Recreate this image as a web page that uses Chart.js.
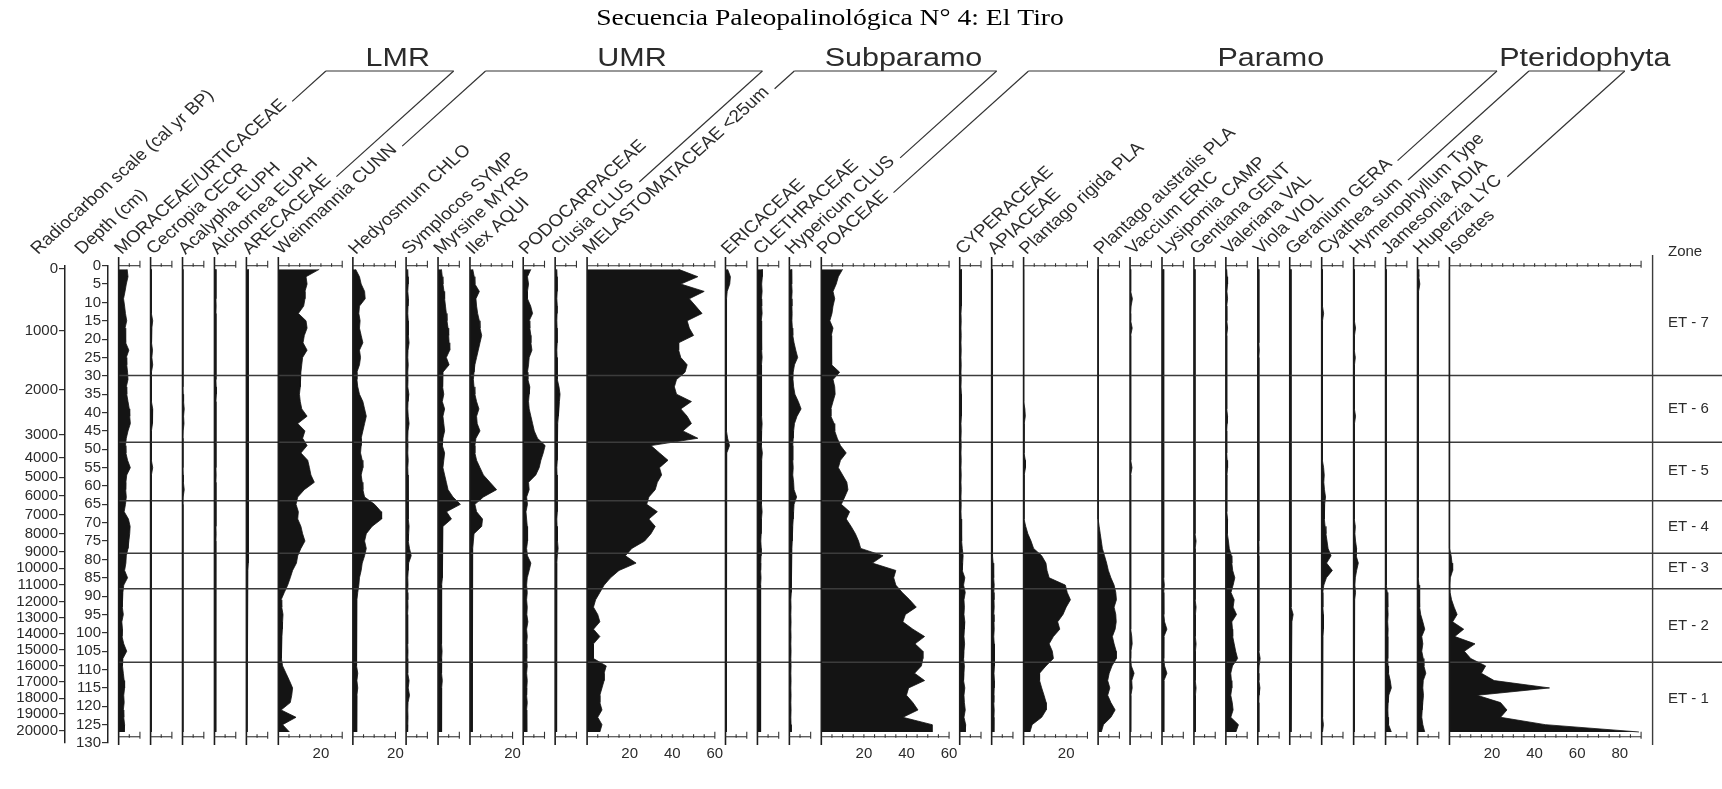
<!DOCTYPE html>
<html>
<head>
<meta charset="utf-8">
<title>Secuencia Paleopalinológica N° 4: El Tiro</title>
<script src="https://cdn.jsdelivr.net/npm/chart.js@4.4.0/dist/chart.umd.min.js"></script>
<style>
  html, body { margin: 0; padding: 0; background: #fff; }
  #contenedor { position: relative; width: 1722px; height: 789px; }
</style>
</head>
<body>
<div id="contenedor"><canvas id="diagramaPolen" width="1722" height="789"></canvas></div>
<script>

// Profundidad de cada muestra (cm)
const profundidades = [1,3,5,7,9,11,13,15,17,19,21,23,25,27,29,31,33,35,37,39,41,43,45,47,49,51,53,55,57,59,61,63,65,67,69,71,73,75,77,79,81,83,85,87,89,91,93,95,97,99,101,103,105,107,109,111,113,115,117,119,121,123,125,127];

// Escala de radiocarbono (cal yr BP) y la profundidad donde cae cada marca
const edadEtiquetas = ['0','1000','2000','3000','4000','5000','6000','7000','8000','9000','10000','11000','12000','13000','14000','15000','16000','17000','18000','19000','20000'];
const edadProfundidad = [0.9,17.8,33.8,46.1,52.4,57.6,62.7,67.9,73.0,78.0,82.4,86.9,91.5,95.8,100.3,104.6,109.0,113.3,117.8,122.0,126.6];
const profTicks = [0,5,10,15,20,25,30,35,40,45,50,55,60,65,70,75,80,85,90,95,100,105,110,115,120,125,130];

// Zonas
const limitesZona = [29.9, 48.1, 64.0, 78.3, 88.0, 108.0];
const zonas = ['ET - 7','ET - 6','ET - 5','ET - 4','ET - 3','ET - 2','ET - 1'];
const zonaCentro = [15.6, 39.0, 56.0, 71.0, 82.4, 98.0, 118.0];

// Taxones y escala maxima (%) de cada columna
const taxones = ['MORACEAE/URTICACEAE','Cecropia CECR','Acalypha EUPH','Alchornea EUPH','ARECACEAE','Weinmannia CUNN','Hedyosmum CHLO','Symplocos SYMP','Myrsine MYRS','Ilex AQUI','PODOCARPACEAE','Clusia CLUS','MELASTOMATACEAE <25um','ERICACEAE','CLETHRACEAE','Hypericum CLUS','POACEAE','CYPERACEAE','APIACEAE','Plantago rigida PLA','Plantago australis PLA','Vaccium ERIC','Lysipomia CAMP','Gentiana GENT','Valeriana VAL','Viola VIOL','Geranium GERA','Cyathea sum','Hymenophyllum Type','Jamesonia ADIA','Huperzia LYC','Isoetes'];
const escalaMax = [10,10,10,10,10,30,20,10,10,20,10,10,60,10,10,10,60,10,10,30,10,10,10,10,10,10,10,10,10,10,10,90];

// Etiquetas numericas bajo algunas columnas
const columnasConEtiqueta = [5, 6, 9, 12, 16, 19, 31];
const etiquetasColumna = [[20],[20],[20],[20,40,60],[20,40,60],[20],[20,40,60,80]];

// Grupos ecologicos (primera y ultima columna unidas por la llave)
const grupos = ['LMR','UMR','Subparamo','Paramo','Pteridophyta'];
const grupoDesde = [0, 5, 12, 16, 27];
const grupoHasta = [4, 11, 15, 26, 30];

// Porcentajes por taxon (una cifra por profundidad)
const moraceae = [4.0,4.4,3.6,3.0,2.3,2.8,3.2,3.8,3.0,3.4, 3.2,4.8,3.6,3.8,4.2,4.4,3.6,3.8,4.4,5.0, 5.2,5.5,4.4,3.6,3.2,3.4,4.2,5.5,3.8,3.4, 3.3,3.6,3.2,2.6,4.6,5.4,5.2,4.8,4.4,3.6, 3.4,2.8,4.2,2.4,2.0,1.8,1.6,2.2,1.5,1.8, 1.6,2.4,3.8,2.0,1.8,2.2,2.6,2.8,2.4,2.6, 2.2,2.4,2.8,2.6];
const cecropia = [0.3,0.3,0.3,0.4,0.3,0.4,0.5,1.0,0.6,0.4, 0.5,0.9,0.6,1.0,0.4,0.3,0.3,0.4,0.6,1.0, 1.1,0.7,0.4,0.3,0.3,0.4,0.5,1.0,0.4,0.3, 0.3,0.3,0.4,0.3,0.3,0.4,0.3,0.3,0.3,0.3, 0.3,0.3,0.3,0.3,0.3,0.3,0.3,0.3,0.3,0.3, 0.3,0.3,0.3,0.3,0.3,0.3,0.3,0.3,0.3,0.3, 0.3,0.3,0.3,0.3];
const acalypha = [0.2,0.2,0.2,0.2,0.2,0.2,0.2,0.2,0.2,0.2, 0.2,0.2,0.2,0.2,0.2,0.2,0.2,0.3,0.5,0.8, 0.5,0.7,0.3,0.2,0.2,0.2,0.2,0.2,0.3,0.4, 0.8,0.3,0.2,0.2,0.2,0.2,0.2,0.2,0.2,0.2, 0.2,0.2,0.2,0.2,0.2,0.2,0.2,0.2,0.2,0.2, 0.2,0.2,0.2,0.2,0.2,0.2,0.2,0.2,0.2,0.2, 0.2,0.2,0.2,0.2];
const alchornea = [0.7,0.7,0.7,0.7,0.7,0.8,0.7,0.7,0.7,0.7, 0.7,0.7,0.7,0.7,0.7,0.7,0.8,0.9,0.7,0.7, 0.7,0.7,0.7,0.7,0.7,0.7,0.7,0.7,0.8,0.7, 0.7,0.7,0.7,0.7,0.7,0.7,0.8,0.7,0.7,0.7, 0.7,0.7,0.7,0.7,0.6,0.6,0.6,0.6,0.6,0.6, 0.6,0.6,0.6,0.6,0.6,0.6,0.6,0.6,0.6,0.6, 0.6,0.6,0.6,0.6];
const arecaceae = [0.8,0.9,1.0,0.8,0.9,1.1,0.8,0.9,1.2,0.8, 0.9,1.1,0.8,1.0,0.9,0.8,0.9,1.1,0.8,0.9, 1.0,0.8,0.9,0.8,0.9,1.1,0.8,0.9,0.8,1.0, 0.8,0.9,1.0,0.8,0.9,0.8,1.1,0.9,0.8,0.9, 0.8,0.7,0.6,0.5,0.3,0.3,0.3,0.3,0.3,0.3, 0.3,0.3,0.3,0.3,0.3,0.3,0.3,0.3,0.3,0.3, 0.3,0.3,0.3,0.3];
const weinmannia = [19.2,13.0,13.5,12.5,12.5,11.9,9.4,13.0,13.5,12.2, 11.6,13.5,11.4,11.0,10.6,10.3,10.3,9.9,10.3,11.0, 13.5,9.1,12.5,11.4,13.5,10.6,13.8,14.6,15.3,16.9, 12.2,9.1,8.3,9.4,9.1,10.6,11.4,12.5,10.6,9.1, 8.5,6.7,5.6,4.4,2.8,1.3,1.6,2.2,2.0,1.9, 1.7,1.6,1.4,1.3,2.0,3.6,5.2,6.7,6.3,5.6, 1.3,8.3,2.0,5.2];
const hedyosmum = [1.3,3.1,3.9,5.5,5.8,3.1,2.8,3.4,3.1,3.9, 4.7,3.1,3.6,3.1,1.9,1.9,2.3,3.1,4.7,5.5, 6.3,5.5,4.7,3.9,3.9,3.6,4.4,4.7,3.9,4.4, 4.7,5.5,10.2,13.3,13.5,9.0,6.3,5.5,6.3,5.5, 4.4,3.9,3.1,2.8,2.3,1.9,1.9,1.7,1.9,1.7, 1.9,1.7,1.6,1.6,1.6,2.3,1.9,2.3,1.9,1.6, 1.9,1.9,1.6,1.9];
const symplocos = [0.8,0.9,1.0,0.8,1.1,0.9,0.8,1.0,0.9,1.2, 1.4,0.9,0.8,1.0,0.8,0.9,0.8,1.3,0.9,0.8, 1.0,1.4,0.9,0.8,0.9,0.8,1.0,0.8,0.9,1.0, 0.9,1.1,0.9,1.0,1.2,1.4,1.2,1.0,1.6,2.4, 1.2,1.0,0.8,0.9,0.7,0.8,0.9,0.7,0.8,0.7, 0.8,0.7,0.9,0.8,0.7,0.8,1.4,1.0,1.6,0.9, 0.8,0.9,0.8,0.7];
const myrsine = [1.6,2.0,2.3,2.8,3.1,3.5,3.9,4.2,4.7,5.0, 5.2,5.5,3.9,5.2,2.3,2.0,2.3,2.7,2.0,3.1, 2.3,2.7,3.1,2.3,2.0,3.1,2.7,2.3,3.1,3.9, 4.7,7.0,10.5,4.0,6.3,2.3,2.0,2.3,2.3,2.0, 2.0,1.9,1.9,1.7,1.7,1.6,1.7,1.6,1.7,1.6, 1.7,1.6,1.9,1.7,1.6,1.7,2.0,1.7,1.6,1.7, 1.6,1.7,1.6,1.7];
const ilex = [1.3,2.0,2.3,4.4,2.8,3.1,3.6,4.4,4.7,5.5, 4.7,3.9,3.1,2.3,1.9,1.6,1.9,2.3,3.1,4.2, 3.1,3.4,4.7,2.8,2.3,2.3,3.1,4.7,6.3,9.4, 12.5,6.3,2.3,3.1,5.9,5.5,1.9,1.6,1.3,1.3, 1.1,1.1,1.1,1.1,1.1,1.0,1.1,1.0,1.1,1.0, 1.1,1.0,1.1,1.0,1.1,1.0,1.1,1.0,1.1,1.0, 1.1,1.0,1.1,1.0];
const podocarpaceae = [3.6,2.0,2.5,2.0,2.0,3.5,4.4,2.8,3.1,3.6, 3.6,4.1,2.8,2.5,2.0,2.2,3.1,2.8,2.5,2.8, 3.6,4.4,5.2,6.7,10.3,9.4,8.3,7.5,5.9,2.5, 2.8,1.6,2.0,1.3,1.6,1.9,2.2,1.9,1.6,2.0, 3.6,2.8,1.9,1.6,1.9,1.6,1.9,1.7,2.2,1.6, 1.9,1.6,1.7,1.6,1.9,1.6,1.9,1.7,1.6,1.9, 1.6,1.7,1.6,1.7];
const clusia = [0.8,0.9,1.0,0.9,0.8,1.0,0.9,0.8,0.9,1.0, 0.9,0.8,0.9,1.0,0.9,1.2,1.8,2.3,2.0,1.8, 1.5,1.2,1.0,0.9,1.2,1.0,0.9,0.8,0.9,1.0, 0.9,1.0,1.3,0.9,0.8,0.9,1.0,1.2,1.4,1.0, 0.8,0.7,0.8,0.7,0.6,0.7,0.8,0.6,0.7,0.6, 0.7,0.8,0.6,0.7,0.6,0.7,0.6,0.7,0.6,0.7, 0.6,0.7,0.6,0.7];
const melastomataceae = [43,52,44,55,48,51,54,47,48,50, 43,43,44,47,46,42,41,42,49,44, 47,49,45,52,30,34,38,34,35,33, 32,29,28,33,29,32,30,27,21,18, 23,15,11,8,6,4,3,5,6,3, 6,3,3,3,9,8,8,7,6,6, 7,5,7,6];
const ericaceae = [1.0,2.3,2.0,0.8,0.5,0.5,0.4,0.5,0.6,0.5, 0.4,0.5,0.4,0.5,0.4,0.4,0.5,0.4,0.4,0.5, 0.4,0.5,0.4,1.0,1.9,0.6,0.4,0.5,0.4,0.4, 0.5,0.4,0.4,0.5,0.4,0.4,0.4,0.5,0.4,0.4, 0.4,0.4,0.4,0.4,0.5,0.4,0.4,0.4,0.4,0.4, 0.5,0.4,0.4,0.4,0.4,0.5,0.4,0.4,0.4,0.5, 0.4,0.4,0.4,0.4];
const clethraceae = [2.2,2.3,2.0,2.2,1.9,2.0,2.2,1.8,2.0,2.1, 1.8,2.0,2.2,1.9,1.8,2.0,1.9,1.8,2.1,2.0, 1.9,2.2,2.0,1.8,1.9,2.3,2.0,2.1,1.9,1.8, 1.9,2.0,1.8,2.2,1.9,1.8,1.7,1.6,1.8,1.7, 1.6,1.5,1.7,1.5,1.4,1.5,1.6,1.4,1.5,1.4, 1.6,1.4,1.5,1.4,1.5,1.6,1.4,1.5,1.4,1.5, 1.4,1.5,1.4,1.5];
const hypericum = [1.0,1.2,1.0,1.3,1.1,1.2,1.3,1.2,1.4,1.6, 2.2,3.0,3.9,2.4,1.8,1.7,2.0,2.6,4.2,5.5, 3.6,2.4,2.0,1.8,1.6,1.5,1.7,1.8,1.6,2.0, 2.2,3.4,2.2,2.0,1.8,1.6,1.4,1.3,1.2,1.0, 1.0,0.9,0.8,0.9,0.8,0.7,0.8,0.7,0.8,0.7, 0.8,0.7,0.8,0.7,0.8,0.7,0.8,0.7,0.8,0.7, 0.8,0.7,0.8,0.9];
const poaceae = [10,8,7,5.5,6.3,5.5,5,4,5.5,4.7, 5,4.7,4.7,5,8.6,5.5,6.3,6.5,5.5,4.5, 4.5,6,6.3,7.5,9,11.7,9,8,10,12, 12.5,11,9.4,13.3,11.7,14,16,17.5,18.5,29, 24,35,34,35,38,41.5,44.6,39.5,38.3,43, 48.5,44,47.7,47.7,47,43.8,48.5,41,40,43, 45.4,38.3,52,52];
const cyperaceae = [0.8,0.9,0.8,0.7,0.8,0.7,0.6,0.7,0.6,0.7, 0.6,0.7,0.6,0.7,0.6,0.7,0.6,0.8,0.7,1.0, 0.7,0.6,0.7,0.6,0.7,0.6,0.7,0.6,0.7,0.6, 0.7,0.6,0.7,0.6,0.7,0.8,0.9,1.0,1.2,1.6, 1.4,1.2,2.4,1.8,2.6,2.0,2.2,2.0,2.4,2.2, 2.0,2.3,2.0,1.8,2.2,2.0,1.8,2.4,2.0,2.2, 2.6,2.0,2.8,2.6];
const apiaceae = [0.4,0.4,0.4,0.4,0.4,0.4,0.4,0.4,0.4,0.4, 0.4,0.4,0.4,0.4,0.4,0.4,0.4,0.4,0.4,0.4, 0.4,0.4,0.4,0.4,0.4,0.4,0.4,0.4,0.4,0.4, 0.4,0.4,0.4,0.4,0.4,0.4,0.4,0.4,0.5,0.6, 0.7,0.9,1.0,1.2,1.0,1.1,1.2,1.0,1.1,1.2, 1.0,1.2,1.3,1.5,1.2,1.1,1.3,1.2,1.1,1.0, 1.2,1.1,1.0,1.1];
const plantagoRigida = [0,0,0,0,0,0,0,0,0,0, 0,0,0,0,0,0,0,0,0,0.6, 0.8,0.3,0.2,0.2,0.2,0.2,0.8,0.9,0.3,0.2, 0.2,0.2,0.2,0.2,0.2,1,2,3.5,4.7,8.5, 10.5,11,12,19.6,20.5,22,20,18.5,16,17, 14,12,13.5,14,10.5,7.5,7.5,8.5,9.6,10.6, 10.6,8.5,4,3];
const plantagoAustralis = [0,0,0,0,0,0,0,0,0,0, 0,0,0,0,0,0,0,0,0,0, 0,0,0,0,0,0,0,0,0,0, 0,0,0,0,0,0.5,1,1.5,2,3, 4,4.8,6,7.5,8.3,8.6,7.5,8.3,8.5,8, 6.7,7.5,8.5,8.5,6.5,5.2,4.5,5.5,4.5,6, 8,6,2.5,1.5];
const vaccium = [0.3,0.3,0.3,0.3,1.1,0.5,0.3,0.3,1.0,0.3, 0.3,0.4,0.3,0.4,0.3,0.3,0.3,0.3,0.3,0.3, 0.3,0.3,0.3,0.3,0.3,0.3,0.3,0.9,0.3,0.3, 0.3,0.3,0.3,0.3,0.3,0.3,0.3,0.3,0.3,0.3, 0.3,0.3,0.3,0.3,0.3,0.3,0.3,0.3,0.3,0.4, 0.8,1.0,0.4,0.3,0.6,1.9,0.8,1.0,0.4,0.3, 0.3,0.4,0.3,0.3];
const lysipomia = [0.8,0.8,0.8,0.8,0.8,0.8,0.8,0.8,0.8,0.8, 0.8,0.8,0.8,0.8,0.8,0.8,0.8,0.8,0.8,0.8, 0.8,0.8,0.8,0.8,0.8,0.8,0.8,0.8,0.8,0.8, 0.8,0.8,0.8,0.8,0.8,0.8,0.8,0.8,0.8,0.8, 0.8,0.8,0.8,1.1,0.8,0.9,0.8,0.9,1.2,2.3, 0.9,0.8,0.8,0.9,1.2,2.3,0.9,0.8,0.9,0.8, 0.8,0.9,0.8,0.9];
const gentiana = [0.5,0.5,0.6,0.5,0.5,0.6,0.5,0.5,0.5,0.6, 0.5,0.5,0.5,0.5,0.5,0.5,0.5,0.5,0.5,0.5, 0.5,0.5,0.5,0.5,0.5,0.5,0.5,0.5,0.5,0.5, 0.5,0.5,0.5,0.5,0.5,0.6,0.9,1.0,0.6,0.5, 0.5,0.6,0.5,0.6,0.7,0.6,1.0,0.7,0.6,0.7, 0.6,1.0,0.7,0.6,0.6,0.7,0.6,1.0,0.7,0.6, 0.6,0.7,0.6,0.7];
const valeriana = [0.4,0.6,0.8,0.5,0.8,0.4,0.4,0.5,0.8,0.4, 0.4,0.4,0.4,0.4,0.4,0.4,0.4,0.4,0.4,0.5, 0.8,0.6,0.4,0.4,0.4,0.4,0.6,0.8,0.5,0.4, 0.4,0.4,0.4,0.5,0.8,0.6,0.8,1.2,1.6,2.6, 2.8,3.2,4.2,3.4,2.4,3.9,3.4,5.0,2.8,3.1, 3.2,3.9,4.6,5.5,3.1,2.3,2.6,2.8,2.3,3.0, 3.4,2.3,5.9,4.7];
const viola = [0.5,0.5,0.5,0.5,0.5,0.5,0.5,0.5,0.5,0.5, 0.5,0.7,0.5,0.5,0.5,0.5,0.5,0.5,0.5,0.5, 0.5,0.5,0.5,0.5,0.5,0.5,0.5,0.5,0.5,0.5, 0.5,0.5,0.5,0.5,0.5,0.5,0.5,0.5,0.6,0.5, 0.5,0.5,0.5,0.5,0.5,0.5,0.5,0.5,0.5,0.5, 0.5,0.5,0.5,1.1,0.6,0.5,0.5,1.0,0.6,0.5, 0.5,0.5,0.5,0.5];
const geranium = [0.6,0.6,0.6,0.6,0.6,0.6,0.6,0.6,0.6,0.6, 0.6,0.6,0.6,0.6,0.6,0.6,0.6,0.6,0.6,0.6, 0.6,0.6,0.6,0.6,0.6,0.6,0.7,0.6,0.6,0.6, 0.6,0.6,0.6,0.6,0.6,0.6,0.6,0.6,0.6,0.6, 0.6,0.6,0.6,0.6,0.6,0.7,0.9,1.6,1.0,0.7, 0.6,0.6,0.6,0.6,0.6,0.7,0.6,0.6,0.6,0.6, 0.6,0.6,0.6,0.6];
const cyathea = [0.3,0.3,0.3,0.3,0.3,0.6,0.9,0.4,0.3,0.3, 0.3,0.3,0.3,0.3,0.3,0.3,0.3,0.3,0.3,0.3, 0.3,0.3,0.3,0.3,0.3,0.4,0.6,0.9,1.2,1.0, 1.3,1.8,1.4,1.2,1.3,1.6,2.0,2.5,3.0,4.4, 2.3,5.0,2.2,1.0,0.5,0.5,0.6,0.8,0.9,0.8, 0.6,0.5,0.4,0.4,0.4,0.4,0.4,0.4,0.4,0.4, 0.4,0.4,0.8,0.4];
const hymenophyllum = [0.3,0.3,0.3,0.3,0.3,0.3,0.3,0.6,0.9,0.4, 0.3,0.3,0.8,0.4,0.3,0.3,0.3,0.3,0.3,0.6, 0.9,0.4,0.3,0.3,0.3,0.3,0.3,0.3,0.3,0.3, 0.3,0.3,0.3,0.3,0.3,0.8,0.6,0.9,1.4,1.2, 2.2,1.4,0.8,0.6,0.9,0.5,0.4,0.3,0.3,0.3, 0.3,0.3,0.3,0.3,0.3,0.3,0.3,0.3,0.3,0.3, 0.3,0.3,0.3,0.3];
const jamesonia = [0.3,0.3,0.3,0.3,0.3,0.3,0.3,0.3,0.3,0.3, 0.3,0.3,0.3,0.3,0.3,0.3,0.3,0.3,0.3,0.3, 0.3,0.3,0.3,0.3,0.3,0.3,0.3,0.3,0.3,0.3, 0.3,0.3,0.3,0.3,0.3,0.4,0.3,0.3,0.3,0.4, 0.4,0.4,0.4,0.5,0.8,1.0,1.1,1.2,1.0,1.2, 1.1,1.0,1.1,1.0,1.2,1.4,2.2,2.7,1.5,1.2, 1.1,1.2,1.4,2.7];
const huperzia = [0.3,0.6,1.1,0.5,0.3,0.3,0.3,0.3,0.3,0.3, 0.3,0.3,0.3,0.3,0.3,0.3,0.3,0.3,0.3,0.3, 0.3,0.3,0.3,0.3,0.3,0.3,0.3,0.3,0.3,0.3, 0.3,0.3,0.3,0.3,0.3,0.3,0.3,0.3,0.3,0.3, 0.5,0.6,0.6,0.7,0.8,1.1,1.1,1.5,2.5,3.4, 2.0,2.5,2.0,2.7,3.0,3.9,2.7,2.5,2.8,2.5, 2.2,2.0,2.5,3.4];
const isoetes = [0,0,0,0,0,0,0,0,0,0, 0,0,0,0,0,0,0,0,0,0, 0,0,0,0,0,0,0,0,0,0, 0,0,0,0,0,0,0,0,0,0.8, 1.2,1.5,0.4,0.2,0.3,1,2.2,3.6,1.5,6.7, 2.5,12,7,10,17,15,21,47,13,24, 27,24,45,89];

const series = [moraceae, cecropia, acalypha, alchornea, arecaceae, weinmannia, hedyosmum, symplocos, myrsine, ilex, podocarpaceae, clusia, melastomataceae, ericaceae, clethraceae, hypericum, poaceae, cyperaceae, apiaceae, plantagoRigida, plantagoAustralis, vaccium, lysipomia, gentiana, valeriana, viola, geranium, cyathea, hymenophyllum, jamesonia, huperzia, isoetes];

// Posicion de cada columna sobre el eje x comun (en unidades de %), con un hueco de 5
const HUECO = 5;
const desplaz = [];
let acumulado = HUECO;
escalaMax.forEach(function (m) { desplaz.push(acumulado); acumulado += m + HUECO; });

const FUENTE = '"Liberation Sans", Arial, sans-serif';
const TINTA = '#2b2b2b';
const ESTIRA = 1.11;   // la figura original esta algo estirada a lo ancho
const ANG = Math.PI / 4;

function linea(ctx, x1, y1, x2, y2) {
  ctx.beginPath(); ctx.moveTo(x1, y1); ctx.lineTo(x2, y2); ctx.stroke();
}

function textoAncho(ctx, txt, x, y, estira) {
  ctx.save(); ctx.translate(x, y); ctx.scale(estira, 1); ctx.fillText(txt, 0, 0); ctx.restore();
}

// Todo lo que rodea a las siluetas: ejes de columna, zonas, nombres y grupos
const decoracion = {
  id: 'decoracion',
  afterDatasetsDraw(chart) {
    const ctx = chart.ctx;
    const sx = chart.scales.x, sy = chart.scales.y;
    const yArriba = sy.getPixelForValue(0);
    const yAbajo = sy.getPixelForValue(128.3);
    ctx.save();

    // lineas de zona
    ctx.strokeStyle = '#3c3c3c'; ctx.lineWidth = 1.4;
    limitesZona.forEach(function (d) {
      const y = sy.getPixelForValue(d);
      linea(ctx, sx.getPixelForValue(desplaz[0]), y, chart.width, y);
    });
    // linea vertical de zonas
    const xZona = sx.getPixelForValue(725.4);
    linea(ctx, xZona, 255, xZona, 745);

    // columnas
    taxones.forEach(function (t, i) {
      const x0 = sx.getPixelForValue(desplaz[i]);
      const x1 = sx.getPixelForValue(desplaz[i] + escalaMax[i]);
      ctx.strokeStyle = '#1c1c1c'; ctx.lineWidth = 1.6;
      linea(ctx, x0, 257, x0, 745);
      ctx.lineWidth = 1.1; ctx.strokeStyle = '#333';
      [yArriba, yAbajo].forEach(function (y) {
        linea(ctx, x0, y, x1, y);
        for (let v = 5; v < escalaMax[i]; v += 5) {
          const xt = sx.getPixelForValue(desplaz[i] + v);
          linea(ctx, xt, y - 2.5, xt, y + 1);
        }
        linea(ctx, x1, y - 5, x1, y + 2);
      });
    });

    // numeros bajo las columnas
    ctx.fillStyle = TINTA; ctx.font = '15px ' + FUENTE;
    ctx.textAlign = 'center'; ctx.textBaseline = 'middle';
    columnasConEtiqueta.forEach(function (c, k) {
      etiquetasColumna[k].forEach(function (v) {
        ctx.fillText(String(v), sx.getPixelForValue(desplaz[c] + v), 754);
      });
    });

    // nombres de zona
    ctx.textAlign = 'left';
    ctx.fillText('Zone', 1668, 252);
    zonas.forEach(function (z, k) {
      ctx.fillText(z, 1668, sy.getPixelForValue(zonaCentro[k]));
    });

    // nombres inclinados
    ctx.font = '17px ' + FUENTE; ctx.textBaseline = 'alphabetic';
    const anclas = taxones.map(function (t, i) { return sx.getPixelForValue(desplaz[i]) + 3; });
    const yAncla = 255;
    function rotado(txt, x) {
      ctx.save(); ctx.translate(x, yAncla); ctx.scale(ESTIRA, 1); ctx.rotate(-ANG);
      ctx.fillText(txt, 0, 0); ctx.restore();
    }
    rotado('Radiocarbon scale (cal yr BP)', 38);
    rotado('Depth (cm)', 82);
    taxones.forEach(function (t, i) { rotado(t, anclas[i]); });

    // llaves de grupo
    const yLlave = 71;
    function puntaLlave(i) {
      const u = ctx.measureText(taxones[i]).width + 6;
      const px = anclas[i] + ESTIRA * u * Math.cos(ANG);
      const py = yAncla - u * Math.sin(ANG);
      const t = (py - yLlave) / Math.sin(ANG);
      return { px: px, py: py, tx: px + t * ESTIRA * Math.cos(ANG) };
    }
    ctx.strokeStyle = '#333'; ctx.lineWidth = 1.2;
    const puntas = grupos.map(function (g, k) {
      return [puntaLlave(grupoDesde[k]), puntaLlave(grupoHasta[k])];
    });
    ctx.font = '26.5px ' + FUENTE; ctx.textAlign = 'center'; ctx.fillStyle = TINTA;
    grupos.forEach(function (g, k) {
      const a = puntas[k][0], b = puntas[k][1];
      linea(ctx, a.px, a.py, a.tx, yLlave);
      linea(ctx, b.px, b.py, b.tx, yLlave);
      linea(ctx, a.tx, yLlave, b.tx, yLlave);
      textoAncho(ctx, g, (a.tx + b.tx) / 2 + 8, yLlave - 5, 1.15);
    });

    // titulo
    ctx.font = '24px "Liberation Serif", "Times New Roman", serif';
    ctx.fillStyle = '#000'; ctx.textAlign = 'center';
    textoAncho(ctx, 'Secuencia Paleopalinológica N° 4: El Tiro', 830, 25, 1.15);

    ctx.restore();
  }
};

function DiagramaPolinico() {
  const canvas = document.getElementById('diagramaPolen');
  const ctx = canvas.getContext('2d');

  const conjuntos = taxones.map(function (nombre, i) {
    return {
      label: nombre,
      data: profundidades.map(function (d, k) { return { x: desplaz[i] + series[i][k], y: d }; }),
      borderColor: '#141414',
      borderWidth: 0.8,
      backgroundColor: '#141414',
      fill: { value: desplaz[i] },
      pointRadius: 0,
      tension: 0
    };
  });

  const config = {
    type: 'line',
    data: { datasets: conjuntos },
    options: {
      indexAxis: 'y',
      responsive: false,
      animation: false,
      events: [],
      layout: { padding: { left: 0, right: 0, top: 265.7, bottom: 46 } },
      plugins: { legend: { display: false }, tooltip: { enabled: false } },
      scales: {
        x: { type: 'linear', min: 0, max: 758, display: false },
        y: {
          type: 'linear', position: 'left', weight: 0, min: 0, max: 130, reverse: true,
          afterBuildTicks: function (s) { s.ticks = profTicks.map(function (v) { return { value: v }; }); },
          afterFit: function (s) { s.width = 43; },
          grid: { drawOnChartArea: false, tickLength: 6, color: '#333', lineWidth: 1.2 },
          border: { color: '#222', width: 1.5 },
          ticks: { autoSkip: false, padding: 1, color: TINTA, font: { family: FUENTE, size: 15 } }
        },
        edad: {
          type: 'linear', position: 'left', weight: 1, min: 0, max: 130, reverse: true, display: true,
          afterBuildTicks: function (s) { s.ticks = edadProfundidad.map(function (v) { return { value: v }; }); },
          afterFit: function (s) { s.width = 65; },
          grid: { drawOnChartArea: false, tickLength: 6, color: '#333', lineWidth: 1.2 },
          border: { color: '#222', width: 1.5 },
          ticks: {
            autoSkip: false, padding: 1, color: TINTA, font: { family: FUENTE, size: 15 },
            callback: function (valor, indice) { return edadEtiquetas[indice]; }
          }
        }
      }
    },
    plugins: [decoracion]
  };

  var grafico = new Chart(ctx, config);
}

DiagramaPolinico();
</script>
</body>
</html>
